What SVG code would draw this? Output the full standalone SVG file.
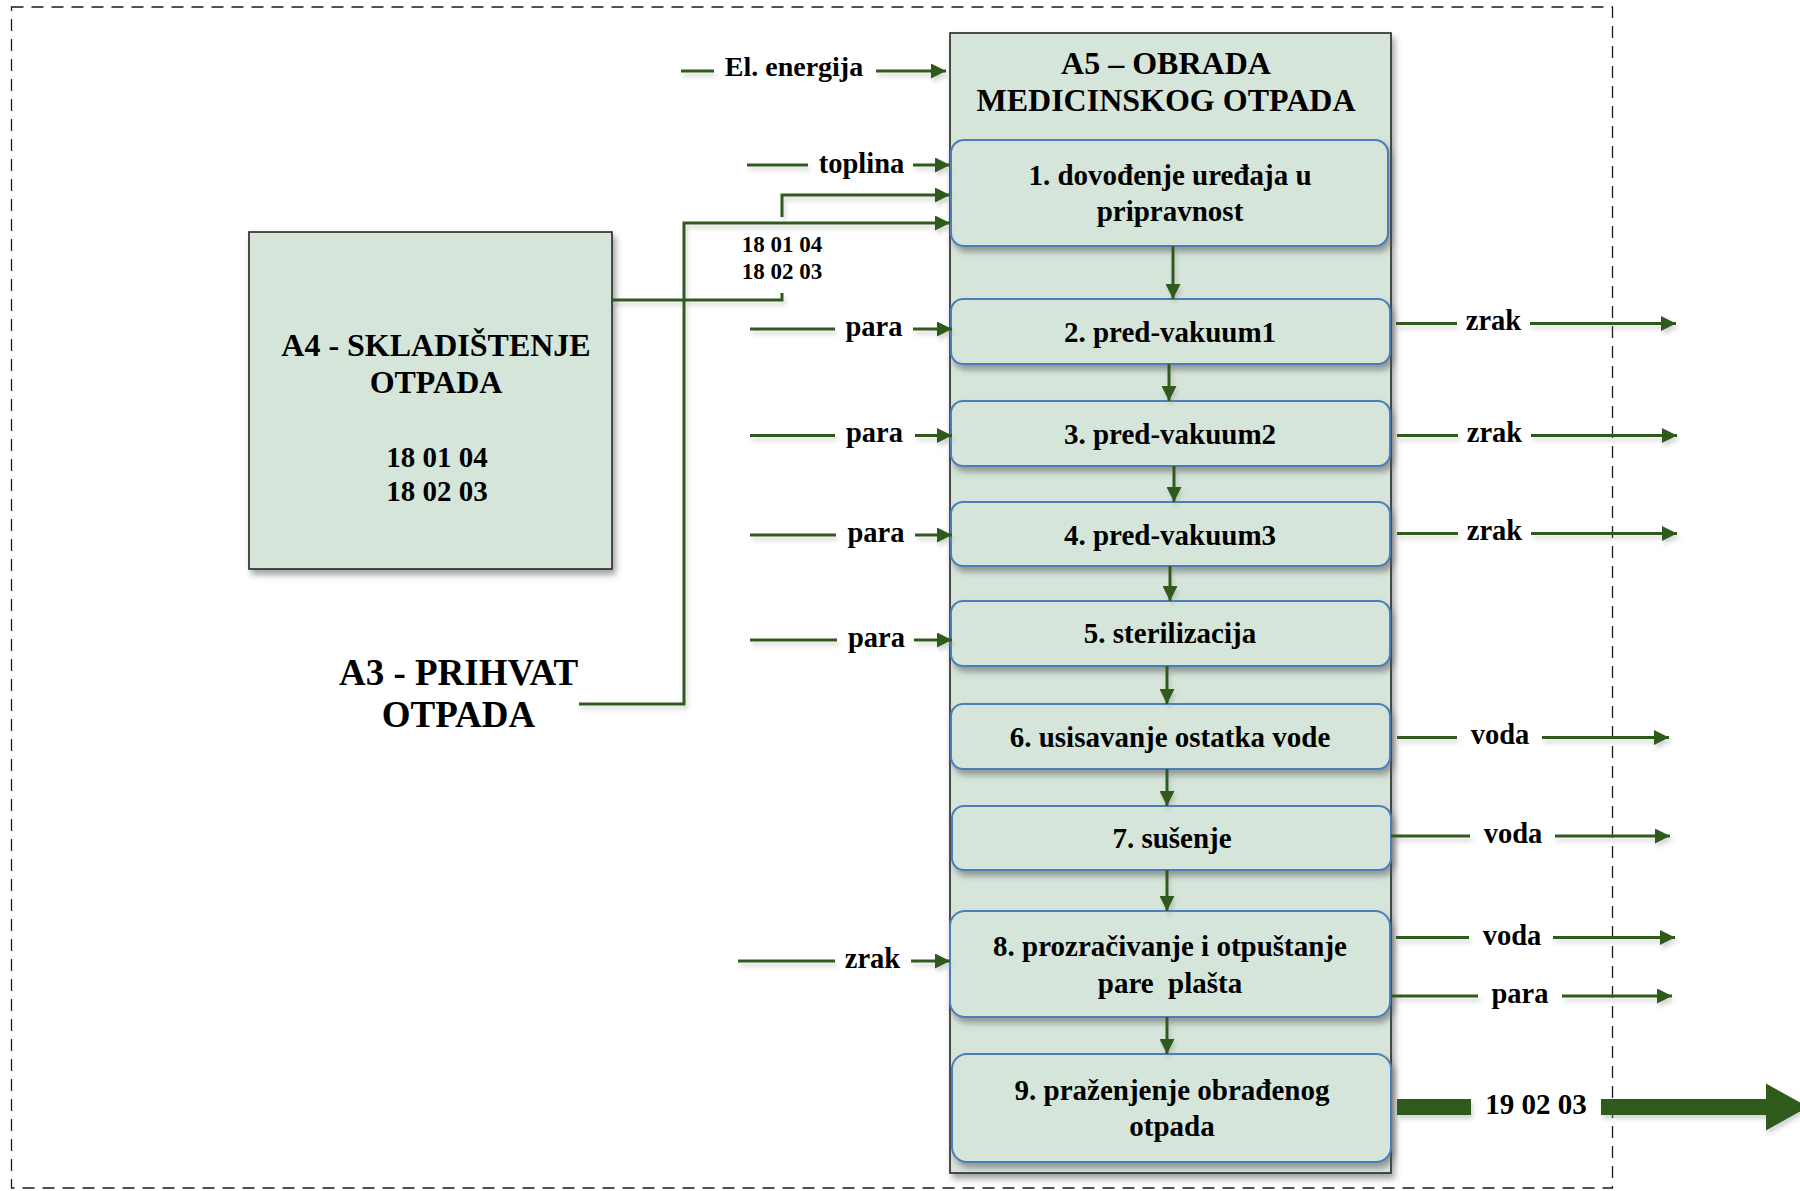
<svg xmlns="http://www.w3.org/2000/svg" width="1800" height="1191" viewBox="0 0 1800 1191">
<defs>
<style>
.frame{fill:#d6e5da;stroke:#262626;stroke-width:1.6}
.box{fill:#d6e5da;stroke:#4a7ebb;stroke-width:2}
.ln{stroke:#2f5a1f;stroke-width:3;fill:none}
.arr{stroke:#2f5a1f;stroke-width:3;fill:none;marker-end:url(#ah)}
.t{font-family:"Liberation Serif","Times New Roman",serif;font-weight:bold;fill:#000;text-anchor:middle}
.bx{font-size:29px}
.lb{font-size:28.5px}
.border{fill:none;stroke:#1a1a1a;stroke-width:1.3;stroke-dasharray:12 8}
</style>
<marker id="ah" viewBox="0 0 15 15" refX="15" refY="7.5" markerWidth="15" markerHeight="15" markerUnits="userSpaceOnUse" orient="auto">
<path d="M0,0 L15,7.5 L0,15 z" fill="#2f5a1f"/>
</marker>
<filter id="sh" x="-10%" y="-10%" width="130%" height="130%">
<feDropShadow dx="3" dy="5" stdDeviation="3" flood-color="#555" flood-opacity="0.55"/>
</filter>
<filter id="lsh" x="-5%" y="-50%" width="110%" height="300%">
<feDropShadow dx="2" dy="4" stdDeviation="2" flood-color="#888" flood-opacity="0.35"/>
</filter>
</defs>
<rect width="1800" height="1191" fill="#fff"/>
<rect class="border" x="11.5" y="7" width="1601" height="1181"/>

<g id="A4">
<rect class="frame" x="249" y="232" width="363" height="337" filter="url(#sh)"/>
<text class="t" font-size="32" x="436" y="356">A4 - SKLADIŠTENJE</text>
<text class="t" font-size="32" x="436" y="393">OTPADA</text>
<text class="t" font-size="29" x="437" y="467">18 01 04</text>
<text class="t" font-size="29" x="437" y="501">18 02 03</text>
</g>

<g id="A3">
<text class="t" font-size="37" x="458.5" y="685">A3 - PRIHVAT</text>
<text class="t" font-size="37" x="458.5" y="727">OTPADA</text>
</g>

<g id="A5">
<rect class="frame" x="950" y="33" width="441" height="1140" filter="url(#sh)"/>
<text class="t" font-size="32" x="1166" y="74">A5 – OBRADA</text>
<text class="t" font-size="32" x="1166" y="111">MEDICINSKOG OTPADA</text>
</g>

<g id="step1">
<rect class="box" x="951" y="140" width="437" height="106" rx="13" filter="url(#sh)"/>
<text class="t bx" x="1170" y="185">1. dovođenje uređaja u</text>
<text class="t bx" x="1170" y="221">pripravnost</text>
</g>
<g id="step2">
<rect class="box" x="951" y="299" width="439" height="65" rx="12" filter="url(#sh)"/>
<text class="t bx" x="1170" y="342">2. pred-vakuum1</text>
</g>
<g id="step3">
<rect class="box" x="951" y="401" width="439" height="65" rx="12" filter="url(#sh)"/>
<text class="t bx" x="1170" y="444">3. pred-vakuum2</text>
</g>
<g id="step4">
<rect class="box" x="951" y="502" width="439" height="64" rx="12" filter="url(#sh)"/>
<text class="t bx" x="1170" y="545">4. pred-vakuum3</text>
</g>
<g id="step5">
<rect class="box" x="951" y="601" width="439" height="65" rx="12" filter="url(#sh)"/>
<text class="t bx" x="1170" y="643">5. sterilizacija</text>
</g>
<g id="step6">
<rect class="box" x="951" y="704" width="439" height="65" rx="12" filter="url(#sh)"/>
<text class="t bx" x="1170" y="747">6. usisavanje ostatka vode</text>
</g>
<g id="step7">
<rect class="box" x="952" y="806" width="439" height="64" rx="12" filter="url(#sh)"/>
<text class="t bx" x="1172" y="848">7. sušenje</text>
</g>
<g id="step8">
<rect class="box" x="950" y="911" width="440" height="106" rx="15" filter="url(#sh)"/>
<text class="t bx" x="1170" y="956">8. prozračivanje i otpuštanje</text>
<text class="t bx" x="1170" y="993">pare&#160; plašta</text>
</g>
<g id="step9">
<rect class="box" x="952" y="1054" width="439" height="108" rx="15" filter="url(#sh)"/>
<text class="t bx" x="1172" y="1100">9. praženjenje obrađenog</text>
<text class="t bx" x="1172" y="1136">otpada</text>
</g>

<g id="connectors">
<g filter="url(#lsh)">
<line class="arr" x1="1173" y1="246" x2="1173" y2="299"/>
<line class="arr" x1="1169" y1="364" x2="1169" y2="401"/>
<line class="arr" x1="1174" y1="466" x2="1174" y2="502"/>
<line class="arr" x1="1170" y1="566" x2="1170" y2="601"/>
<line class="arr" x1="1167" y1="666" x2="1167" y2="704"/>
<line class="arr" x1="1167" y1="769" x2="1167" y2="806"/>
<line class="arr" x1="1167" y1="870" x2="1167" y2="911"/>
<line class="arr" x1="1167" y1="1017" x2="1167" y2="1054"/>

<path class="arr" d="M579,704 H684 V223 H950"/>
<path class="ln" d="M612,300 H782 V293"/>
<path class="arr" d="M782,217 V195 H950"/>

<line class="ln" x1="681" y1="71" x2="714" y2="71"/>
<line class="arr" x1="876" y1="71" x2="946" y2="71"/>
<line class="ln" x1="747" y1="165" x2="808" y2="165"/>
<line class="arr" x1="913" y1="165" x2="950" y2="165"/>
<line class="ln" x1="750" y1="329" x2="835" y2="329"/>
<line class="arr" x1="913" y1="329" x2="952" y2="329"/>
<line class="ln" x1="750" y1="435.5" x2="835" y2="435.5"/>
<line class="arr" x1="915" y1="435.5" x2="952" y2="435.5"/>
<line class="ln" x1="750" y1="535" x2="836" y2="535"/>
<line class="arr" x1="915" y1="535" x2="952" y2="535"/>
<line class="ln" x1="750" y1="640" x2="837" y2="640"/>
<line class="arr" x1="914" y1="640" x2="952" y2="640"/>
<line class="ln" x1="738" y1="961" x2="835" y2="961"/>
<line class="arr" x1="911" y1="961" x2="950" y2="961"/>

<line class="ln" x1="1396" y1="323.5" x2="1457" y2="323.5"/>
<line class="arr" x1="1530" y1="323.5" x2="1676" y2="323.5"/>
<line class="ln" x1="1397" y1="435.5" x2="1458" y2="435.5"/>
<line class="arr" x1="1531" y1="435.5" x2="1677" y2="435.5"/>
<line class="ln" x1="1397" y1="533.5" x2="1458" y2="533.5"/>
<line class="arr" x1="1531" y1="533.5" x2="1677" y2="533.5"/>
<line class="ln" x1="1397" y1="737.5" x2="1457" y2="737.5"/>
<line class="arr" x1="1542" y1="737.5" x2="1669" y2="737.5"/>
<line class="ln" x1="1391" y1="836" x2="1470" y2="836"/>
<line class="arr" x1="1555" y1="836" x2="1670" y2="836"/>
<line class="ln" x1="1396" y1="937.5" x2="1469" y2="937.5"/>
<line class="arr" x1="1553" y1="937.5" x2="1675" y2="937.5"/>
<line class="ln" x1="1392" y1="996" x2="1478" y2="996"/>
<line class="arr" x1="1562" y1="996" x2="1672" y2="996"/>

<rect x="1397" y="1099" width="74" height="16" fill="#2f5a1f"/>
<polygon points="1601,1099 1766,1099 1766,1083.5 1808,1107 1766,1130.5 1766,1115 1601,1115" fill="#2f5a1f"/>
</g>

<text class="t" font-size="23" x="782" y="252">18 01 04</text>
<text class="t" font-size="23" x="782" y="279">18 02 03</text>
<text class="t" font-size="28" x="794" y="76">El. energija</text>
<text class="t lb" x="861.5" y="173">toplina</text>
<text class="t lb" x="874" y="336">para</text>
<text class="t lb" x="874.5" y="442">para</text>
<text class="t lb" x="876" y="542">para</text>
<text class="t lb" x="876.5" y="647">para</text>
<text class="t lb" x="872.5" y="968">zrak</text>
<text class="t lb" x="1493.5" y="330">zrak</text>
<text class="t lb" x="1494.5" y="442">zrak</text>
<text class="t lb" x="1494.5" y="540">zrak</text>
<text class="t lb" x="1500" y="744">voda</text>
<text class="t lb" x="1513" y="843">voda</text>
<text class="t lb" x="1512" y="945">voda</text>
<text class="t lb" x="1520" y="1003">para</text>
<text class="t bx" x="1536" y="1114">19 02 03</text>
</g>
</svg>
